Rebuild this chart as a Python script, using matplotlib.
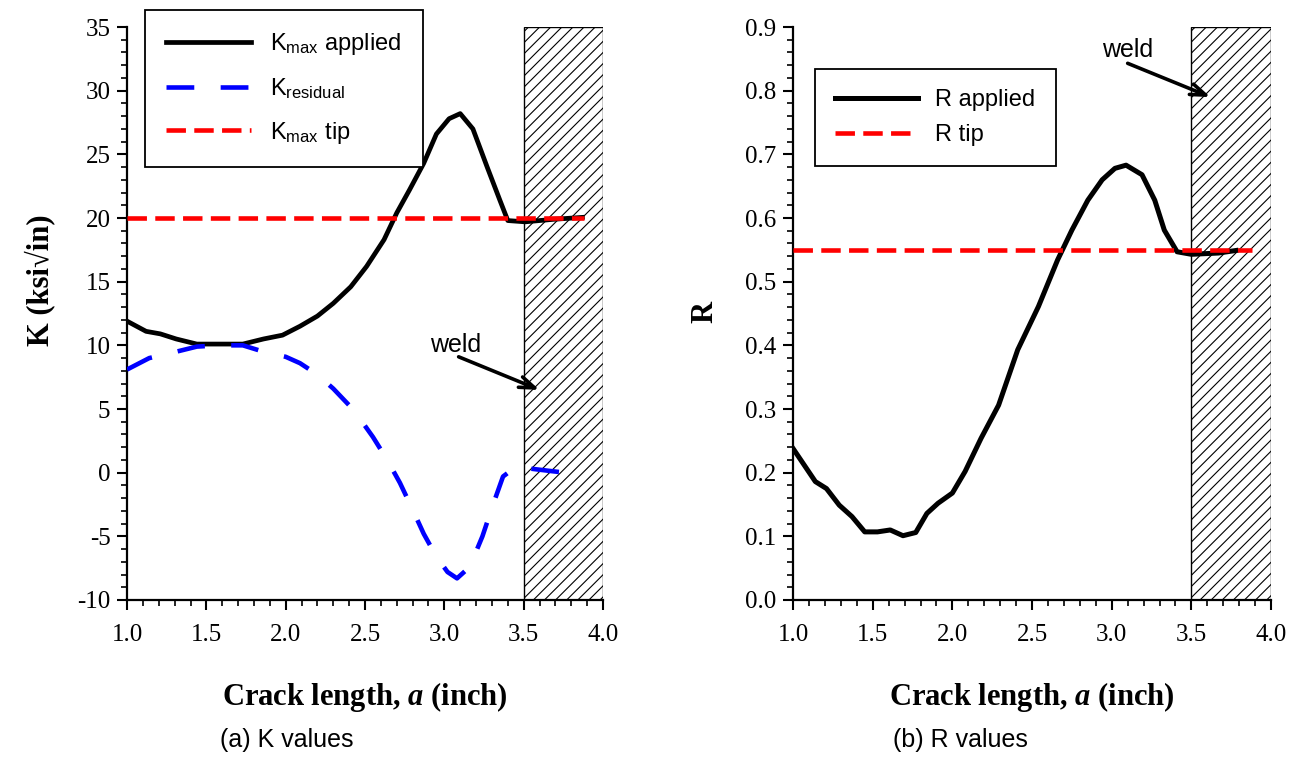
import matplotlib
matplotlib.use("Agg")
import matplotlib.pyplot as plt
from matplotlib.ticker import MultipleLocator, FormatStrFormatter

plt.rcParams['mathtext.default'] = 'regular'
plt.rcParams['mathtext.fontset'] = 'custom'
plt.rcParams['mathtext.it'] = 'Liberation Serif:italic:bold'
plt.rcParams['mathtext.bf'] = 'Liberation Serif:bold'
plt.rcParams['mathtext.rm'] = 'Liberation Serif:bold'
plt.rcParams['lines.scale_dashes'] = False
plt.rcParams['hatch.linewidth'] = 0.8

# ---------------- data ----------------
ka_x = [1.00, 1.12, 1.21, 1.31, 1.44, 1.58, 1.73, 1.86, 1.98, 2.09, 2.20, 2.30, 2.41, 2.51,
        2.62, 2.70, 2.78, 2.87, 2.95, 3.03, 3.10, 3.18, 3.27, 3.35, 3.40, 3.51, 3.69, 3.87]
ka_y = [11.9, 11.1, 10.9, 10.5, 10.1, 10.1, 10.1, 10.5, 10.8, 11.5, 12.3, 13.3, 14.6, 16.2,
        18.3, 20.4, 22.2, 24.3, 26.6, 27.8, 28.2, 27.0, 24.0, 21.4, 19.8, 19.7, 19.9, 20.05]

kr_x = [1.00, 1.14, 1.31, 1.44, 1.58, 1.73, 1.86, 2.00, 2.09, 2.20, 2.30, 2.43, 2.55, 2.64,
        2.72, 2.80, 2.87, 2.95, 3.02, 3.08, 3.16, 3.24, 3.31, 3.37, 3.45, 3.52, 3.69, 3.80]
kr_y = [8.1, 9.0, 9.5, 9.9, 10.0, 10.0, 9.5, 9.1, 8.6, 7.7, 6.6, 4.9, 2.8, 1.0,
        -0.8, -2.9, -4.8, -6.6, -7.8, -8.3, -7.4, -5.0, -2.4, -0.3, 0.45, 0.35, 0.1, -0.05]

ktip_x = [1.0, 3.88]
ktip_y = [20.0, 20.0]

r_x = [1.00, 1.14, 1.21, 1.29, 1.37, 1.45, 1.53, 1.61, 1.69, 1.77, 1.84, 1.91, 2.00, 2.08,
       2.18, 2.29, 2.41, 2.54, 2.66, 2.75, 2.85, 2.94, 3.02, 3.09, 3.19, 3.27, 3.33, 3.41,
       3.50, 3.67, 3.78]
r_y = [0.238, 0.186, 0.175, 0.149, 0.131, 0.107, 0.107, 0.110, 0.101, 0.106, 0.136, 0.152,
       0.168, 0.202, 0.254, 0.306, 0.393, 0.461, 0.534, 0.581, 0.628, 0.660, 0.678, 0.683,
       0.668, 0.628, 0.581, 0.547, 0.543, 0.545, 0.549]

rtip_x = [1.0, 3.88]
rtip_y = [0.55, 0.55]

weld_start, weld_end = 3.5, 4.0

serif = ['Liberation Serif', 'DejaVu Serif']
sans = ['Liberation Sans', 'DejaVu Sans']

fig = plt.figure(figsize=(12.99, 7.57), dpi=100)
axL = fig.add_axes([0.0978, 0.2074, 0.3664, 0.7569])
axR = fig.add_axes([0.6105, 0.2074, 0.3680, 0.7569])


def style_axis(ax, ylim, ymaj, ymin, yfmt, ylabel, ylab_xy):
    ax.set_xlim(1.0, 4.0)
    ax.set_ylim(*ylim)
    ax.spines['top'].set_visible(False)
    ax.spines['right'].set_visible(False)
    for s in ('left', 'bottom'):
        ax.spines[s].set_linewidth(1.6)
    ax.xaxis.set_major_locator(MultipleLocator(0.5))
    ax.xaxis.set_minor_locator(MultipleLocator(0.1))
    ax.yaxis.set_major_locator(MultipleLocator(ymaj))
    ax.yaxis.set_minor_locator(MultipleLocator(ymin))
    ax.xaxis.set_major_formatter(FormatStrFormatter('%.1f'))
    ax.yaxis.set_major_formatter(FormatStrFormatter(yfmt))
    ax.tick_params(which='major', direction='out', length=7, width=1.5, pad=5)
    ax.tick_params(which='minor', direction='out', length=4, width=1.2)
    ax.tick_params(axis='x', which='major', pad=10)
    for lab in ax.get_xticklabels() + ax.get_yticklabels():
        lab.set_family(serif)
        lab.set_fontsize(18)
    ax.axvspan(weld_start, weld_end, facecolor='white', edgecolor='black',
               hatch='///', linewidth=1.0, zorder=0.5)
    ax.set_xlabel(r'Crack length, $\mathit{a}$ (inch)', family=serif,
                  fontweight='bold', fontsize=22)
    ax.xaxis.set_label_coords(0.5, -97 / 573)
    ax.xaxis.label.set_va('center')
    ax.set_ylabel(ylabel, family=serif, fontweight='bold', fontsize=22)
    ax.yaxis.set_label_coords(*ylab_xy)
    ax.yaxis.label.set_va('center')
    ax.yaxis.label.set_ha('center')


# ---------------- left panel ----------------
style_axis(axL, (-10, 35), 5, 1, '%d', 'K (ksi√in)',
           ((40 - 127) / 476, (600 - 280) / 573))
hA, = axL.plot(ka_x, ka_y, color='black', lw=3.4, zorder=3,
               label=r'K$_{max}$ applied', solid_joinstyle='round')
hR, = axL.plot(kr_x, kr_y, color='blue', lw=3.3, zorder=4,
               label=r'K$_{residual}$', dashes=(20, 19))
hT, = axL.plot(ktip_x, ktip_y, color='red', lw=3.3, zorder=5,
               label=r'K$_{max}$ tip', dashes=(14, 6))
leg = axL.legend(handles=[hA, hR, hT], loc='upper left', bbox_to_anchor=(0.038, 1.03),
                 borderaxespad=0, frameon=True, fancybox=False, framealpha=1,
                 edgecolor='black', prop={'family': sans, 'size': 17},
                 handlelength=3.6, handletextpad=0.8, labelspacing=0.8, borderpad=0.9)
leg.get_frame().set_linewidth(1.3)
leg.set_zorder(10)
axL.text(3.07, 10.0, 'weld', family=sans, fontsize=18, ha='center', va='center')
axL.annotate('', xy=(3.60, 6.5), xytext=(3.09, 9.1),
             arrowprops=dict(arrowstyle='->,head_length=1.1,head_width=0.4',
                             color='black', lw=2.6, shrinkA=0, shrinkB=0), zorder=6)

# ---------------- right panel ----------------
style_axis(axR, (0.0, 0.9), 0.1, 0.02, '%.1f', 'R',
           ((705 - 793) / 478, (600 - 312) / 573))
hRA, = axR.plot(r_x, r_y, color='black', lw=3.6, zorder=3, label='R applied',
                solid_joinstyle='round')
hRT, = axR.plot(rtip_x, rtip_y, color='red', lw=3.3, zorder=5, label='R tip',
                dashes=(14, 6))
legR = axR.legend(handles=[hRA, hRT], loc='upper left', bbox_to_anchor=(0.046, 0.927),
                  borderaxespad=0, frameon=True, fancybox=False, framealpha=1,
                  edgecolor='black', prop={'family': sans, 'size': 17},
                  handlelength=3.5, handletextpad=0.75, labelspacing=0.55, borderpad=0.85)
legR.get_frame().set_linewidth(1.3)
legR.set_zorder(10)
axR.text(3.10, 0.864, 'weld', family=sans, fontsize=18, ha='center', va='center')
axR.annotate('', xy=(3.62, 0.79), xytext=(3.10, 0.843),
             arrowprops=dict(arrowstyle='->,head_length=1.1,head_width=0.4',
                             color='black', lw=2.6, shrinkA=0, shrinkB=0), zorder=6)

# ---------------- captions ----------------
fig.text(287 / 1299, 1 - 740 / 757, '(a) K values', family=sans, fontsize=18,
         ha='center', va='center')
fig.text(960 / 1299, 1 - 740 / 757, '(b) R values', family=sans, fontsize=18,
         ha='center', va='center')

fig.savefig('out.png', dpi=100)
